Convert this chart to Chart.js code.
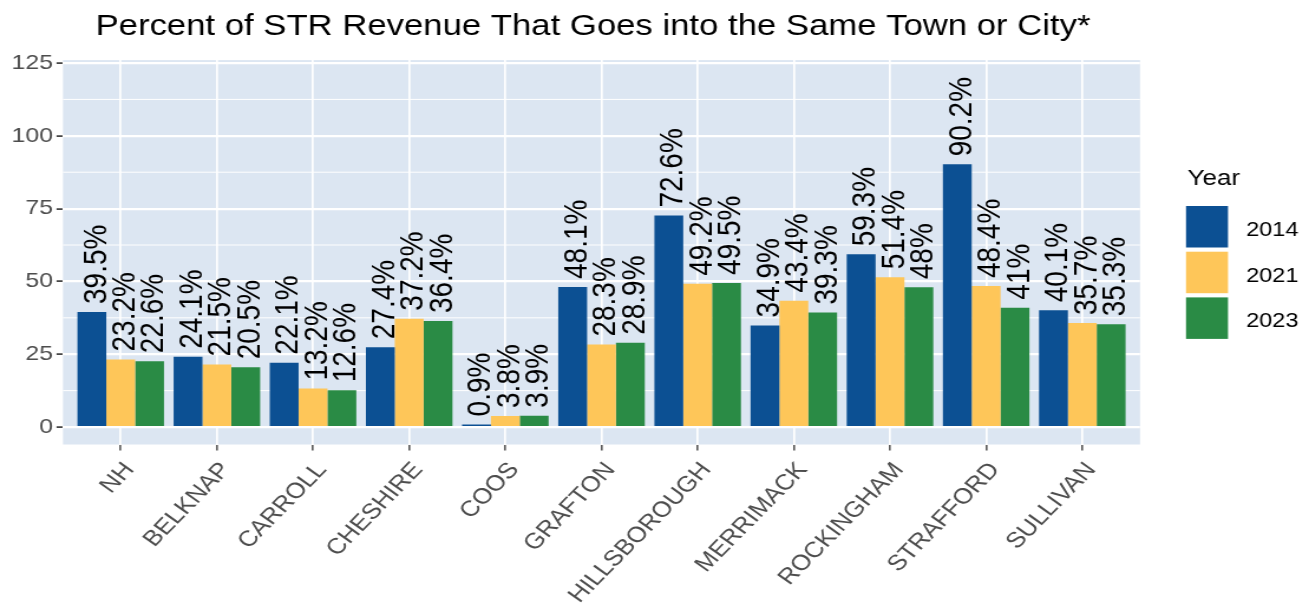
<!DOCTYPE html>
<html>
<head>
<meta charset="utf-8">
<script src="https://cdn.jsdelivr.net/npm/chart.js@4.4.1/dist/chart.umd.min.js"></script>
<style>
  html, body { margin: 0; padding: 0; background: #ffffff; overflow: hidden; }
  #wrap { width: 1109px; height: 609px; transform: scaleX(1.180343); transform-origin: 0 0; }
  canvas { display: block; }
</style>
</head>
<body>
<div id="wrap"><canvas id="chart" width="1109" height="609"></canvas></div>
<script>
// ---- data ----
const categories = ['NH', 'BELKNAP', 'CARROLL', 'CHESHIRE', 'COOS', 'GRAFTON',
                    'HILLSBOROUGH', 'MERRIMACK', 'ROCKINGHAM', 'STRAFFORD', 'SULLIVAN'];
const years = ['2014', '2021', '2023'];
const share2014 = [39.5, 24.1, 22.1, 27.4, 0.9, 48.1, 72.6, 34.9, 59.3, 90.2, 40.1];
const share2021 = [23.2, 21.5, 13.2, 37.2, 3.8, 28.3, 49.2, 43.4, 51.4, 48.4, 35.7];
const share2023 = [22.6, 20.5, 12.6, 36.4, 3.9, 28.9, 49.5, 39.3, 48, 41, 35.3];
const yTicks = [0, 25, 50, 75, 100, 125];
const yMinorTicks = [12.5, 37.5, 62.5, 87.5, 112.5];
const yearColors = ['#0C5093', '#FEC659', '#2A8B45'];
const titleText = 'Percent of STR Revenue That Goes into the Same Town or City*';
const legendTitle = 'Year';

// ---- layout helpers (canvas is drawn narrow and widened by CSS) ----
const W = 1109;
const SX = 1309 / W;
const hx = v => v / SX;
const FONT = '"Liberation Sans", Arial, Helvetica, sans-serif';
const PANEL_BG = '#DCE6F2';

Chart.defaults.font.family = FONT;

const seriesValues = [share2014, share2021, share2023];

// panel background and minor grid lines
const panelPlugin = {
  id: 'panel',
  beforeDraw(chart) {
    const { ctx, chartArea: a, scales } = chart;
    ctx.save();
    ctx.fillStyle = '#ffffff';
    ctx.fillRect(0, 0, chart.width, chart.height);
    ctx.fillStyle = PANEL_BG;
    ctx.fillRect(a.left, a.top, a.right - a.left, a.bottom - a.top);
    ctx.strokeStyle = '#ffffff';
    ctx.lineWidth = 1;
    yMinorTicks.forEach(v => {
      const y = scales.y.getPixelForValue(v);
      ctx.beginPath();
      ctx.moveTo(a.left, y);
      ctx.lineTo(a.right, y);
      ctx.stroke();
    });
    ctx.restore();
  }
};

// rotated value labels above each bar
const valueLabelPlugin = {
  id: 'valueLabels',
  afterDatasetsDraw(chart) {
    const { ctx } = chart;
    const size = 28;
    ctx.save();
    ctx.font = size + 'px ' + FONT;
    ctx.fillStyle = '#000000';
    ctx.textAlign = 'left';
    ctx.textBaseline = 'alphabetic';
    chart.data.datasets.forEach((ds, d) => {
      const meta = chart.getDatasetMeta(d);
      meta.data.forEach((bar, i) => {
        const txt = ds.data[i] + '%';
        ctx.save();
        ctx.translate(bar.x + size * 0.358 + 1.7, bar.y - 8);
        ctx.rotate(-Math.PI / 2);
        ctx.fillText(txt, 0, 0);
        ctx.restore();
      });
    });
    ctx.restore();
  }
};

// title and legend
const decorPlugin = {
  id: 'decor',
  afterDraw(chart) {
    const { ctx } = chart;
    ctx.save();
    ctx.fillStyle = '#000000';
    ctx.font = '29.4px ' + FONT;
    ctx.textAlign = 'center';
    ctx.textBaseline = 'alphabetic';
    ctx.fillText(titleText, hx(593), 34.5);

    ctx.textAlign = 'left';
    ctx.font = '22px ' + FONT;
    ctx.fillText(legendTitle, hx(1187.5), 185);
    ctx.font = '20px ' + FONT;
    chart.data.datasets.forEach((ds, d) => {
      const top = 206 + d * 45.7;
      ctx.fillStyle = ds.backgroundColor;
      ctx.fillRect(hx(1186), top, hx(1228) - hx(1186), 41.5);
      ctx.fillStyle = '#000000';
      ctx.fillText(ds.label, hx(1246), top + 30);
    });
    ctx.restore();
  }
};

new Chart(document.getElementById('chart'), {
  type: 'bar',
  data: {
    labels: categories.map((_, i) => i),
    datasets: years.map((yr, d) => ({
      label: yr,
      data: seriesValues[d],
      backgroundColor: yearColors[d],
      borderWidth: 0,
      categoryPercentage: 0.9,
      barPercentage: 1.0
    }))
  },
  options: {
    responsive: false,
    animation: false,
    events: [],
    layout: { padding: { top: 60.1, right: W - hx(1140), bottom: 0, left: 0 } },
    plugins: {
      legend: { display: false },
      title: { display: false },
      tooltip: { enabled: false }
    },
    scales: {
      x: {
        type: 'linear',
        min: -0.6,
        max: categories.length - 0.4,
        offset: false,
        afterBuildTicks: s => { s.ticks = categories.map((_, i) => ({ value: i })); },
        afterFit: s => { s.height = 609 - 444.5; },
        border: { display: false },
        grid: {
          offset: false,
          color: '#ffffff',
          lineWidth: 1.7,
          drawTicks: true,
          tickLength: 6,
          tickColor: '#333333',
          tickWidth: 1.3
        },
        ticks: {
          autoSkip: false,
          minRotation: 50,
          maxRotation: 50,
          padding: 7,
          labelOffset: 7.6,
          color: '#4D4D4D',
          font: { size: 22 },
          callback: v => categories[v]
        }
      },
      y: {
        min: -6,
        max: 126,
        afterBuildTicks: s => { s.ticks = yTicks.map(v => ({ value: v })); },
        afterFit: s => { s.width = hx(63); },
        border: { display: false },
        grid: {
          color: '#ffffff',
          lineWidth: 2.2,
          drawTicks: true,
          tickLength: 5.5,
          tickColor: '#333333',
          tickWidth: 1.6
        },
        ticks: {
          padding: 3,
          color: '#4D4D4D',
          font: { size: 21 },
          callback: v => String(v)
        }
      }
    }
  },
  plugins: [panelPlugin, valueLabelPlugin, decorPlugin]
});
</script>
</body>
</html>
